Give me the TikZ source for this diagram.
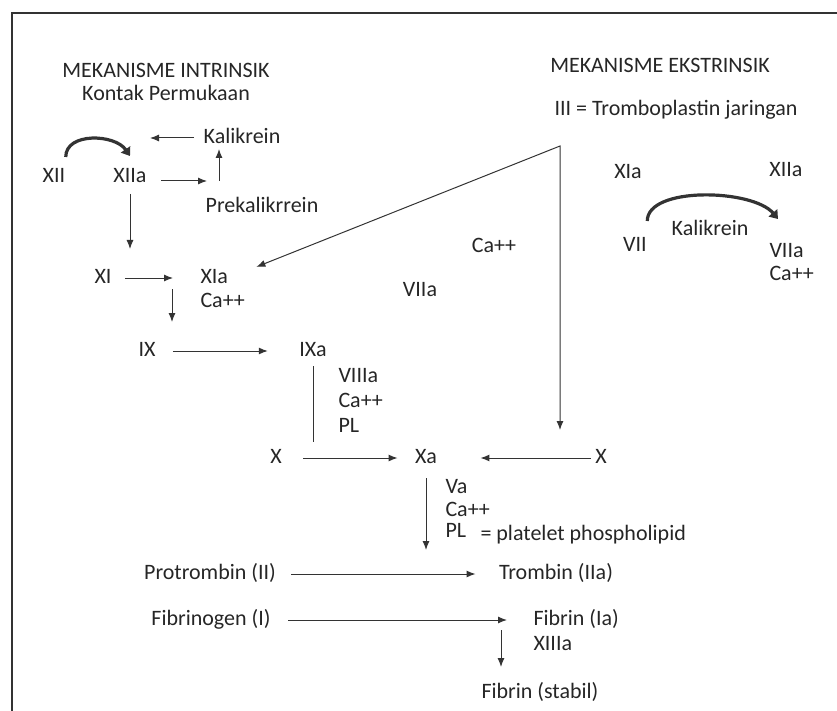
\documentclass[tikz,border=0pt]{standalone}
\usepackage{fontspec}
\setmainfont{Carlito}
\usetikzlibrary{arrows.meta}

\begin{document}
\begin{tikzpicture}[->,>={Latex[length=9pt,width=7pt]},x=1pt,y=-1pt,
                    line width=1pt,draw=black!80]
  \tikzstyle{every node}=[inner sep=0pt,text height=14pt,text depth=3pt,
                          font=\fontsize{22}{26}\selectfont,text=black!85]
  \tikzstyle{bigarc}=[line width=3.2pt,-{Triangle[length=8pt,width=11pt]}]

  \useasboundingbox (0,0) rectangle (837,711);
  \draw[-,line width=1.6pt] (12,711) -- (12,13) -- (837,13);

  % intrinsik
  \node (HIn)    at (166,72)  {MEKANISME INTRINSIK};
  \node (Kontak) at (166,95)  {Kontak Permukaan};
  \node (Kal)    at (242,138) {Kalikrein};
  \node (XII)    at (54,177)  {XII};
  \node (XIIa)   at (130,177) {XIIa};
  \node (PreKal) at (262,207) {Prekalikrrein};
  \node (XI)     at (103,278) {XI};
  \node[anchor=west] (XIa) at (200,278) {XIa};
  \node[anchor=west] (Ca1) at (200,302) {Ca++};
  \node (IX)     at (147,351) {IX};
  \node (IXa)    at (313,351) {IXa};
  \node[anchor=west] (VIIIa) at (338,377) {VIIIa};
  \node[anchor=west] (Ca2)   at (338,402) {Ca++};
  \node[anchor=west] (PL1)   at (338,427) {PL};
  \node (X1)     at (276,458) {X};
  \node (Xa)     at (426,458) {Xa};
  \node (X2)     at (601,458) {X};

  % ekstrinsik
  \node (HEx)    at (660,67)  {MEKANISME EKSTRINSIK};
  \node (III)    at (676,110) {III = Tromboplastin jaringan};
  \node (Ca3)    at (494,247) {Ca++};
  \node (VIIa1)  at (420,291) {VIIa};
  \node (XIa2)   at (628,173) {XIa};
  \node (XIIa2)  at (786,171) {XIIa};
  \node (VII)    at (635,246) {VII};
  \node (Kal2)   at (710,230) {Kalikrein};
  \node[anchor=west] (VIIa2) at (769,252) {VIIa};
  \node[anchor=west] (Ca4)   at (769,275) {Ca++};

  % jalur bersama
  \node[anchor=west] (Va)    at (445,488) {Va};
  \node[anchor=west] (Ca5)   at (445,511) {Ca++};
  \node[anchor=west] (PL2)   at (445,532) {PL};
  \node[anchor=west] (PLdef) at (480,535) {= platelet phospholipid};
  \node (ProT)   at (210,574) {Protrombin (II)};
  \node (Trom)   at (556,574) {Trombin (IIa)};
  \node (Fbg)    at (211,620) {Fibrinogen (I)};
  \node[anchor=west] (FibIa) at (533,620) {Fibrin (Ia)};
  \node[anchor=west] (XIIIa) at (533,645) {XIIIa};
  \node (FibS)   at (540,693) {Fibrin (stabil)};

  \coordinate (KalEnd) at (150,138);
  \coordinate (PK)     at (219,181);
  \coordinate (XIaOut) at (172,289);
  \coordinate (IXIn)   at (172,322);
  \coordinate (TF)     at (560,146);
  \coordinate (FibOut) at (501,630);

  \draw[shorten <=9pt] (Kal) -- (KalEnd);
  \draw[bigarc] ([yshift=11pt]XII.north east) .. controls +(0,-25) and +(-15,-22) .. ([yshift=12pt]XIIa.north);
  \draw[shorten <=14pt,shorten >=12pt] (XIIa.east |- PK) -- (PK);
  \draw[shorten >=2pt] (PK) -- (PK |- Kal.south);
  \draw[shorten <=8pt,shorten >=29pt] (XIIa) -- (XIIa |- XI);
  \draw[shorten <=13pt,shorten >=27pt] (XI) -- (XIa);
  \draw (XIaOut) -- (IXIn);
  \draw[shorten <=17pt,shorten >=31pt] (IX) -- (IXa);
  \draw[-,shorten <=6pt,shorten >=16pt] (IXa) -- (IXa |- X1);
  \draw[shorten <=21pt,shorten >=17pt] (X1) -- (Xa);
  \draw[shorten <=4pt,shorten >=43pt] (X2) -- (Xa);
  \draw[<->,shorten <=30pt,shorten >=28pt] (XIa.east) -- (TF) -- (TF |- Xa);
  \draw[bigarc] ([yshift=16pt]VII.north east) .. controls +(0,-35) and +(-25,-30) .. ([xshift=9pt,yshift=24pt]VIIa2.north west);
  \draw[shorten <=11pt,shorten >=24pt] (Xa) -- (Xa |- Trom);
  \draw[shorten <=15pt,shorten >=23pt] (ProT) -- (Trom);
  \draw[shorten <=17pt,shorten >=26pt] (Fbg) -- (FibIa);
  \draw[shorten >=17pt] (FibOut) -- (FibOut |- FibS.north);
\end{tikzpicture}
\end{document}
